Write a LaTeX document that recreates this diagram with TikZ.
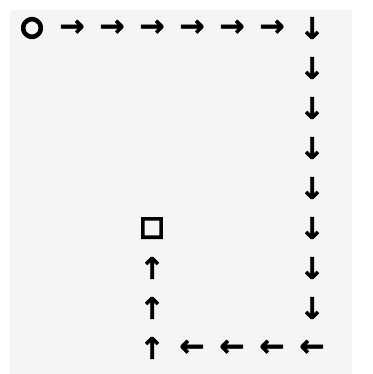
\documentclass[tikz,border=0pt]{standalone}
\usepackage{fontspec}
\newfontfamily\symfont[FakeBold=1.5]{DejaVu Sans Bold}
\newfontfamily\markfont[FakeBold=12]{DejaVu Sans Bold}
\newfontfamily\goalfont[FakeBold=8]{DejaVu Sans Bold}
\begin{document}
\begin{tikzpicture}[x=1pt,y=-1pt,
  sym/.style={inner sep=0pt,font=\symfont\fontsize{30}{30}\selectfont},
  startmark/.style={inner sep=0pt,font=\markfont\fontsize{25}{25}\selectfont},
  goalmark/.style={inner sep=0pt,font=\goalfont\fontsize{26}{26}\selectfont}]
            \useasboundingbox (0,0) rectangle (372,374);
            \draw[fill = black!4, draw = none] (10,10) rectangle (352,374);
            \node[startmark] (start) at (32,28) {○};
            \node[sym] (r1) at (72,28) {→};
            \node[sym] (r2) at (112,28) {→};
            \node[sym] (r3) at (152,28) {→};
            \node[sym] (r4) at (192,28) {→};
            \node[sym] (r5) at (232,28) {→};
            \node[sym] (r6) at (272,28) {→};
            \node[sym] (d1) at (312,28) {↓};
            \node[sym] (d2) at (312,68) {↓};
            \node[sym] (d3) at (312,108) {↓};
            \node[sym] (d4) at (312,148) {↓};
            \node[sym] (d5) at (312,188) {↓};
            \node[sym] (d6) at (312,228) {↓};
            \node[sym] (d7) at (312,268) {↓};
            \node[sym] (d8) at (312,308) {↓};
            \node[sym] (l1) at (312,348) {←};
            \node[sym] (l2) at (272,348) {←};
            \node[sym] (l3) at (232,348) {←};
            \node[sym] (l4) at (192,348) {←};
            \node[sym] (u1) at (152,348) {↑};
            \node[sym] (u2) at (152,308) {↑};
            \node[sym] (u3) at (152,268) {↑};
            \node[goalmark] (goal) at (152,228) {□};
\end{tikzpicture}
\end{document}
